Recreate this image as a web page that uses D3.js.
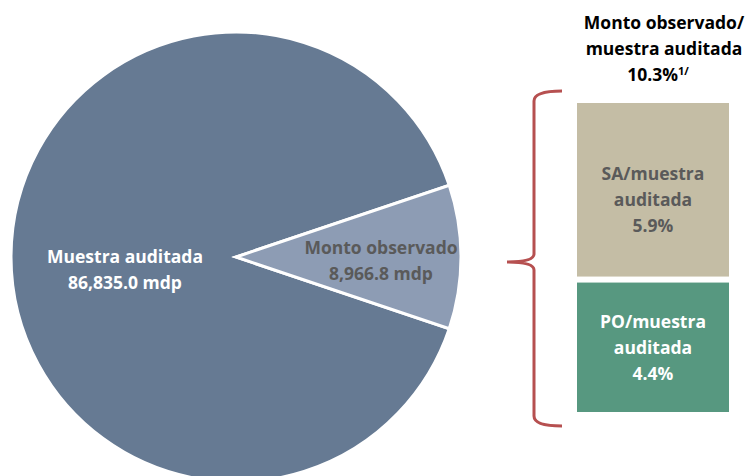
<!DOCTYPE html>
<html>
<head>
<meta charset="utf-8">
<script src="https://cdn.jsdelivr.net/npm/d3@7"></script>
<style>
  body { margin: 0; background: #fff; }
  svg { display: block; font-family: "Open Sans", Lato, sans-serif; font-weight: bold; }
</style>
</head>
<body>
<script>
// Pie values (mdp)
const muestra = 86835.0;
const monto = 8966.8;
const pieLabels = [
  ['Muestra auditada', '86,835.0 mdp'],
  ['Monto observado', '8,966.8 mdp']
];

// Stacked bar values (% of muestra auditada)
const barNames = ['SA', 'PO'];
const barValues = [5.9, 4.4];
const barLabels = [
  ['SA/muestra', 'auditada', '5.9%'],
  ['PO/muestra', 'auditada', '4.4%']
];
const totalPct = 10.3;

const w = 749;
const h = 476;
const fs = 17.5;

const svg = d3.select('body')
  .append('svg')
  .attr('width', w)
  .attr('height', h);

// Pie
const cx = 236;
const cy = 257;
const r = 225;
const pieValues = [muestra - monto, monto];
const half = Math.PI * (monto / muestra);

const pie = d3.pie()
  .sort(null)
  .startAngle(Math.PI / 2 + half)
  .endAngle(Math.PI / 2 + half + 2 * Math.PI);

const arc = d3.arc().innerRadius(0).outerRadius(r);

const g = svg.append('g').attr('transform', `translate(${cx},${cy})`);

g.selectAll('path')
  .data(pie(pieValues))
  .enter()
  .append('path')
  .attr('d', arc)
  .attr('fill', (d, i) => (i === 0 ? '#667a93' : '#8d9cb4'))
  .attr('stroke', '#fff')
  .attr('stroke-width', 3)
  .attr('stroke-linejoin', 'miter');

// Pie labels
const labelPos = [[125 - cx, 263 - cy], [381 - cx, 254 - cy]];
pieLabels.forEach((lines, i) => {
  const t = g.append('text')
    .attr('text-anchor', 'middle')
    .attr('font-size', fs)
    .attr('fill', i === 0 ? '#fff' : '#5a5a5a');
  lines.forEach((s, j) => {
    t.append('tspan')
      .attr('x', labelPos[i][0])
      .attr('y', labelPos[i][1] + j * 26)
      .text(s);
  });
});

// Bars
const barX = 577;
const barW = 152;
const barTop = 103;
const gap = 6;
const yScale = d3.scaleLinear()
  .domain([0, totalPct])
  .range([0, 303]);

let yPos = barTop;
const bars = barValues.map((v, i) => {
  const b = { name: barNames[i], y: yPos, h: yScale(v), labels: barLabels[i] };
  yPos += yScale(v) + gap;
  return b;
});

svg.selectAll('rect.bar')
  .data(bars)
  .enter()
  .append('rect')
  .attr('class', 'bar')
  .attr('x', barX)
  .attr('y', d => d.y)
  .attr('width', barW)
  .attr('height', d => d.h)
  .attr('fill', (d, i) => (i === 0 ? '#c4bda5' : '#579880'));

const textOffset = [77, 45];
bars.forEach((b, i) => {
  const t = svg.append('text')
    .attr('text-anchor', 'middle')
    .attr('font-size', fs)
    .attr('fill', i === 0 ? '#5a5a5a' : '#fff');
  b.labels.forEach((s, j) => {
    t.append('tspan')
      .attr('x', barX + barW / 2)
      .attr('y', b.y + textOffset[i] + j * 26)
      .text(s);
  });
});

// Brace
const bTop = barTop - 12;
const bBot = yPos - gap + 14;
const bMid = 262;
const bx = 534;
const brace = d3.path();
brace.moveTo(562, bTop);
brace.quadraticCurveTo(bx, bTop, bx, bTop + 10);
brace.lineTo(bx, bMid - 8);
brace.quadraticCurveTo(bx, bMid, 507, bMid);
brace.quadraticCurveTo(bx, bMid, bx, bMid + 8);
brace.lineTo(bx, bBot - 10);
brace.quadraticCurveTo(bx, bBot, 562, bBot);

svg.append('path')
  .attr('d', brace.toString())
  .attr('fill', 'none')
  .attr('stroke', '#b65050')
  .attr('stroke-width', 3);

// Title
const title = svg.append('text')
  .attr('text-anchor', 'middle')
  .attr('font-size', fs)
  .attr('fill', '#000');
title.append('tspan').attr('x', 664).attr('y', 29).text('Monto observado/');
title.append('tspan').attr('x', 664).attr('y', 55).text('muestra auditada');
title.append('tspan').attr('x', 658).attr('y', 81).text(`${totalPct}%`);
title.append('tspan')
  .attr('font-size', 11)
  .attr('dy', -6)
  .text('1/');
</script>
</body>
</html>
